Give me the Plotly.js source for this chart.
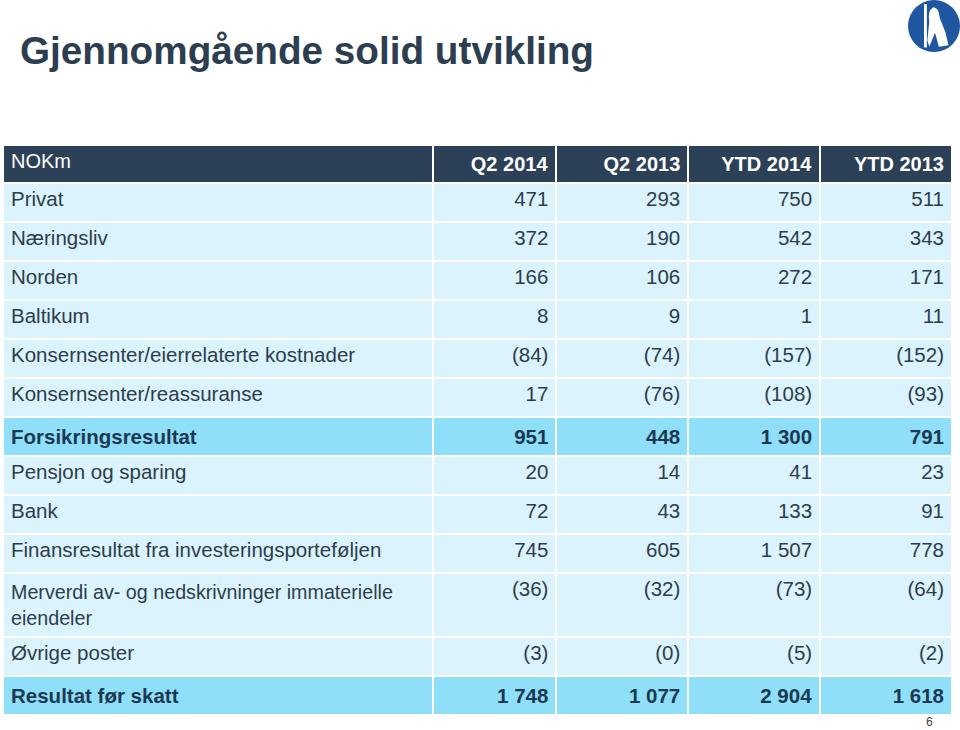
<!DOCTYPE html>
<html>
<head>
<meta charset="utf-8">
<script src="https://cdn.plot.ly/plotly-3.0.1.min.js"></script>
<style>html,body{margin:0;padding:0;background:#fff;}#chart{width:960px;height:730px;}</style>
</head>
<body>
<div id="chart"></div>
<script>
// Data
const columns = ["NOKm", "Q2 2014", "Q2 2013", "YTD 2014", "YTD 2013"];
const rowLabels = [
  "Privat", "Næringsliv", "Norden", "Baltikum",
  "Konsernsenter/eierrelaterte kostnader", "Konsernsenter/reassuranse",
  "Forsikringsresultat", "Pensjon og sparing", "Bank",
  "Finansresultat fra investeringsporteføljen",
  "Merverdi av- og nedskrivninger immaterielle<br>eiendeler",
  "Øvrige poster", "Resultat før skatt"
];
const q2_2014 = [471, 372, 166, 8, -84, 17, 951, 20, 72, 745, -36, -3, 1748];
const q2_2013 = [293, 190, 106, 9, -74, -76, 448, 14, 43, 605, -32, -0, 1077];
const ytd_2014 = [750, 542, 272, 1, -157, -108, 1300, 41, 133, 1507, -73, -5, 2904];
const ytd_2013 = [511, 343, 171, 11, -152, -93, 791, 23, 91, 778, -64, -2, 1618];
const negZero = [false, false, false, false, false, false, false, false, false, false, false, true, false]; // "(0)" shown in Q2 2013
const highlightRows = [6, 12];

function fmt(v, forceParen) {
  const a = Math.abs(v);
  const s = String(a).replace(/\B(?=(\d{3})+(?!\d))/g, " ");
  return (v < 0 || forceParen) ? "(" + s + ")" : s;
}
function colText(vals, isQ213) {
  return vals.map((v, i) => {
    let t = fmt(v, isQ213 && negZero[i]);
    if (highlightRows.includes(i)) t = "<b>" + t + "</b>";
    return t;
  });
}
const labelText = rowLabels.map((l, i) => highlightRows.includes(i) ? "<b>" + l + "</b>" : l);

const LIGHT = "#dbf3fc", HI = "#8fdff9", HEAD = "#2c4157";
const rowFill = rowLabels.map((_, i) => highlightRows.includes(i) ? HI : LIGHT);
const rowFont = rowLabels.map((_, i) => highlightRows.includes(i) ? "#1c3852" : "#2e3d4b");
const labelSize = rowLabels.map(l => l.includes("<br>") ? 19.7 : 20.5);
const numSize = rowLabels.map(() => 20.5);

const trace = {
  type: "table",
  domain: {x: [3/960, 953/960], y: [0.0, 1 - 145/730]},
  columnwidth: [430, 124, 132, 132, 132],
  header: {
    values: columns.map((c, i) => i === 0 ? c : "<b>" + c + "</b>"),
    align: ["left", "right", "right", "right", "right"],
    fill: {color: HEAD},
    line: {color: "#ffffff", width: 2},
    font: {family: "Liberation Sans, Arial, sans-serif", size: 20, color: "#ffffff"},
    height: 38
  },
  cells: {
    values: [labelText, colText(q2_2014), colText(q2_2013, true), colText(ytd_2014), colText(ytd_2013)],
    align: ["left", "right", "right", "right", "right"],
    fill: {color: [rowFill, rowFill, rowFill, rowFill, rowFill]},
    line: {color: "#ffffff", width: 2},
    font: {family: "Liberation Sans, Arial, sans-serif",
           size: [labelSize, numSize, numSize, numSize, numSize],
           color: [rowFont, rowFont, rowFont, rowFont, rowFont]},
    height: 39
  }
};

const layout = {
  width: 960, height: 730,
  margin: {l: 0, r: 0, t: 0, b: 0},
  paper_bgcolor: "#ffffff",
  showlegend: false,
  annotations: [
    {text: "<b>Gjennomgående solid utvikling</b>", x: 18/960, y: 1 - 50/730, xref: "paper", yref: "paper",
     xanchor: "left", yanchor: "middle", showarrow: false,
     font: {family: "Liberation Sans, Arial, sans-serif", size: 38.7, color: "#2c3e50"}},
    {text: "6", x: 935/960, y: 1 - 722/730, xref: "paper", yref: "paper",
     xanchor: "right", yanchor: "middle", showarrow: false,
     font: {family: "Liberation Sans, Arial, sans-serif", size: 12, color: "#444444"}}
  ],
  shapes: [
    {type: "circle", xref: "paper", yref: "paper", x0: 908/960, x1: 960/960, y0: 1 - 52/730, y1: 1 - 0/730,
     fillcolor: "#1f56a0", line: {width: 0}},
    {type: "path", xref: "paper", yref: "paper",
     path: "M 0.9625 0.9945 L 0.9655 0.9945 L 0.9655 0.935 L 0.9625 0.935 Z",
     fillcolor: "#ffffff", line: {width: 0}},
    {type: "path", xref: "paper", yref: "paper",
     path: "M 0.972 0.99 Q 0.978 0.99 0.979 0.975 L 0.985 0.955 L 0.988 0.938 L 0.978 0.936 L 0.974 0.955 L 0.968 0.936 L 0.966 0.945 L 0.968 0.97 Q 0.966 0.985 0.972 0.99 Z",
     fillcolor: "#ffffff", line: {width: 0}}
  ]
};

Plotly.newPlot("chart", [trace], layout, {displayModeBar: false, staticPlot: true});
</script>
</body>
</html>
